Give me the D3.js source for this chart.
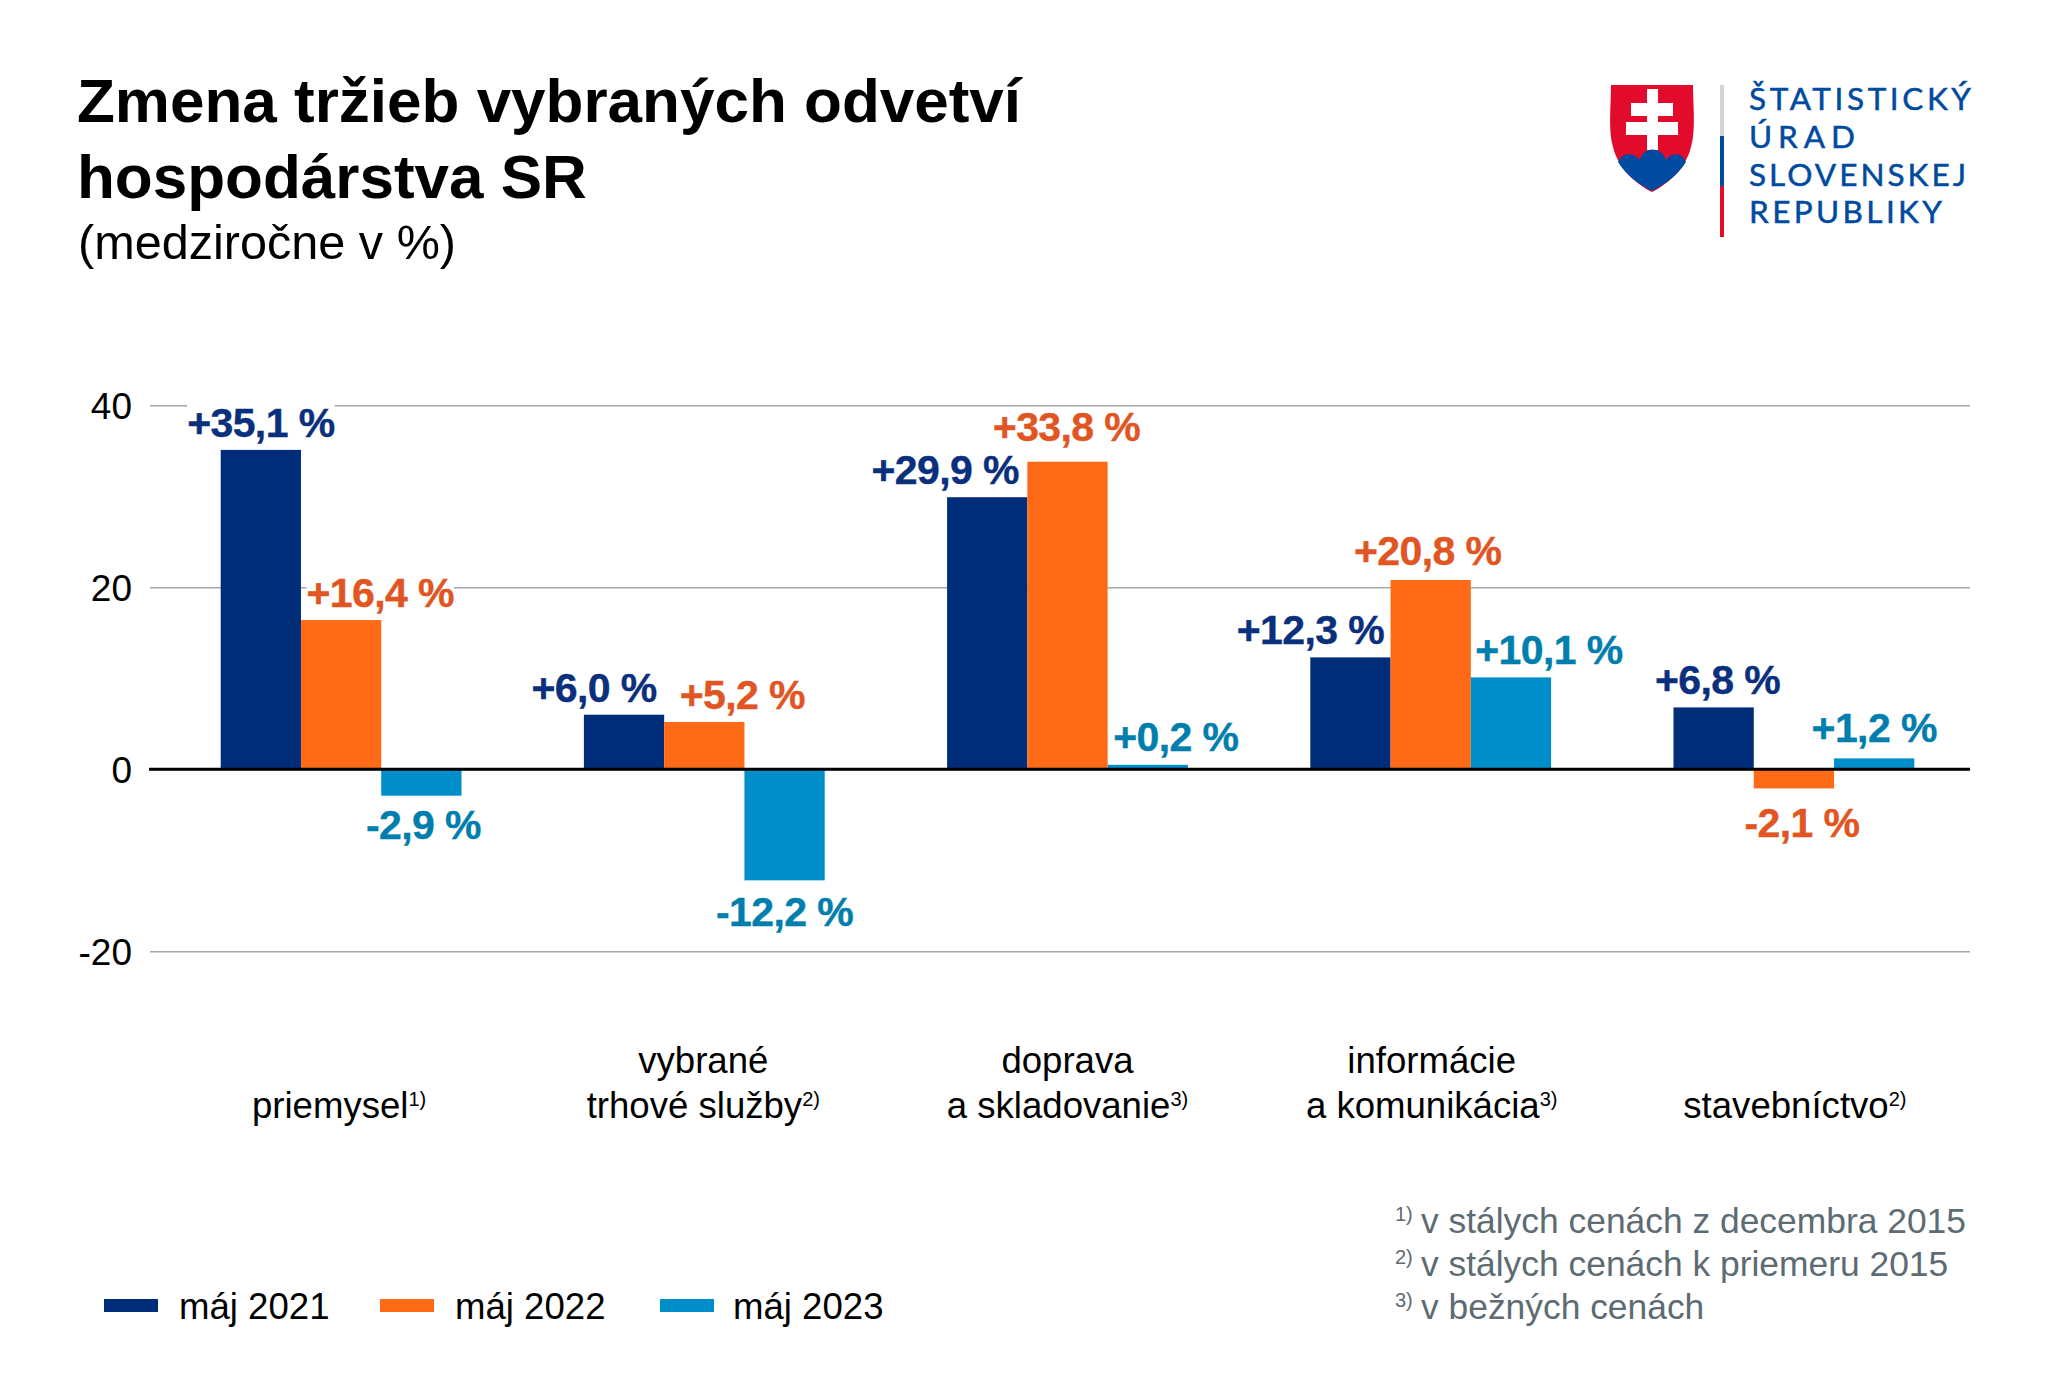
<!DOCTYPE html>
<html><head><meta charset="utf-8">
<script src="https://cdn.jsdelivr.net/npm/d3@7"></script>
<style>
html,body{margin:0;padding:0;background:#fff}
svg{display:block}
text{font-family:"Liberation Sans",Arial,sans-serif}
</style></head><body><svg id="c" width="2048" height="1396"></svg>
<script>
const categories=["priemysel","vybrané trhové služby","doprava a skladovanie","informácie a komunikácia","stavebníctvo"];
const categoryLines=[["priemysel"],["vybrané","trhové služby"],["doprava","a skladovanie"],["informácie","a komunikácia"],["stavebníctvo"]];
const categoryNotes=["1)","2)","3)","3)","2)"];
const seriesNames=["máj 2021","máj 2022","máj 2023"];
const may2021=[35.1,6.0,29.9,12.3,6.8];
const may2022=[16.4,5.2,33.8,20.8,-2.1];
const may2023=[-2.9,-12.2,0.2,10.1,1.2];
const yTicks=[-20,0,20,40];
const footnoteMarks=["1)","2)","3)"];
const footnotes=["v stálych cenách z decembra 2015","v stálych cenách k priemeru 2015","v bežných cenách"];
const titleLines=["Zmena tržieb vybraných odvetví","hospodárstva SR"];
const subtitle="(medziročne v %)";
const logoLines=["ŠTATISTICKÝ","ÚRAD","SLOVENSKEJ","REPUBLIKY"];

const barColors=["#002d7a","#ff6a17","#008ecb"];
const labelColors=["#0a2f7c","#e05522","#007ead"];
// manual nudges of the value labels relative to their bar: [dx, dy] by series, category
const nudge=[
 [[0,0],[-30,0],[-42,0],[-40,0],[4,0]],
 [[39,0],[38,0],[-1,-8],[-3,-2],[8,3]],
 [[2,-3],[0,0],[28,-3],[38,0],[0,-3]]
];
const minBarHeight=4.5; // very small bars stay visible above the zero line
const svg=d3.select("#c");
const y=d3.scaleLinear().domain([-20,40]).range([951.3,405.3]);
const x0=d3.scaleBand().domain(categories).range([159.5,1975.5]).paddingInner(0.337).paddingOuter(0.1685);
const x1=d3.scaleBand().domain(seriesNames).range([0,x0.bandwidth()]);
const values=[may2021,may2022,may2023];

// Title
const t=svg.append("g");
titleLines.forEach((s,i)=>t.append("text").attr("x",77).attr("y",[122,198][i]).attr("font-size",62).attr("font-weight",700).attr("fill","#000").text(s));
t.append("text").attr("x",78).attr("y",259).attr("font-size",48.6).attr("fill","#000").text(subtitle);

// Axis + gridlines
const axis=d3.axisLeft(y).tickValues(yTicks).tickSize(-1820).tickPadding(18).tickFormat(d=>String(d));
const ax=svg.append("g").attr("transform","translate(150,0)").call(axis);
ax.select(".domain").remove();
ax.selectAll(".tick line").attr("stroke","#a8a8a8").attr("stroke-width",1.5);
ax.selectAll(".tick text").attr("font-size",37).attr("dy","0.36em").attr("fill","#000").attr("font-family","Liberation Sans");

// Bars and labels
const fmt=v=>(v>=0?"+":"-")+Math.abs(v).toFixed(1).replace(".",",")+" %";
const halo=svg.append("g"), bars=svg.append("g"), labels=svg.append("g");
seriesNames.forEach((sn,s)=>{
  values[s].forEach((v,c)=>{
    const bx=x0(categories[c])+x1(sn), bw=x1.bandwidth();
    const h=Math.max(Math.abs(y(v)-y(0)),minBarHeight);
    bars.append("rect").attr("x",bx).attr("width",bw)
      .attr("y",v>=0?y(0)-h:y(0)).attr("height",h).attr("fill",barColors[s]);
    const ly=v>=0? y(v)-13 : y(v)+46;
    const tx=labels.append("text").attr("x",bx+bw/2+nudge[s][c][0]).attr("y",ly+nudge[s][c][1])
      .attr("text-anchor","middle").attr("font-size",41).attr("font-weight",700)
      .attr("letter-spacing",-0.6).attr("stroke",labelColors[s]).attr("stroke-width",0.4).attr("fill",labelColors[s]).text(fmt(v));
    const b=tx.node().getBBox();
    halo.append("rect").attr("x",b.x).attr("y",b.y+4).attr("width",b.width).attr("height",b.height-8).attr("fill","#fff");
  });
});
svg.append("line").attr("x1",149).attr("x2",1970).attr("y1",y(0)).attr("y2",y(0)).attr("stroke","#000").attr("stroke-width",3);

// Category labels
const cat=svg.append("g");
const catShift=[-2,-1,0,1,1];
categoryLines.forEach((ls,c)=>{
  const cx=x0(categories[c])+x0.bandwidth()/2+catShift[c];
  const base=1118;
  ls.forEach((l,i)=>{
    const yy=base-(ls.length-1-i)*45;
    const tx=cat.append("text").attr("x",cx).attr("y",yy).attr("text-anchor","middle").attr("font-size",36.6).attr("fill","#000");
    tx.append("tspan").text(l);
    if(i===ls.length-1) tx.append("tspan").attr("dy",-12).attr("font-size",20).text(categoryNotes[c]);
  });
});

// Legend
const lg=svg.append("g");
seriesNames.forEach((n,i)=>{
  const lx=[104,380,660][i];
  lg.append("rect").attr("x",lx).attr("y",1299).attr("width",54).attr("height",13).attr("fill",barColors[i]);
  lg.append("text").attr("x",[179,455,733][i]).attr("y",1319).attr("font-size",36.6).attr("fill","#000").text(n);
});

// Footnotes
const fn=svg.append("g");
footnotes.forEach((s,i)=>{
  const yy=[1233,1276,1319][i];
  fn.append("text").attr("x",1395).attr("y",yy-12).attr("font-size",20).attr("fill","#5d6b73").text(footnoteMarks[i]);
  fn.append("text").attr("x",1421).attr("y",yy).attr("font-size",35.4).attr("fill","#5d6b73").text(s);
});

// Logo
const logo=svg.append("g");
logo.append("path").attr("fill","#e30b2c").attr("d","M1611,85H1693C1693,105 1696,130 1691,147C1686,168 1668,184 1652,192C1636,184 1618,168 1613,147C1608,130 1611,105 1611,85Z");
logo.append("path").attr("fill","#fff").attr("d","M1647,89H1658V103H1673V116H1658V122H1678V135H1658V150H1647V135H1626V122H1647V116H1631V103H1647Z");
logo.append("path").attr("fill","#004a9f").attr("d","M1618,162C1622,152 1634,152 1640,160C1643,146 1662,146 1666,160C1671,152 1682,152 1686,162C1678,175 1666,184 1652,191C1638,184 1626,175 1618,162Z");
[["#d2d4d6",85,136],["#004a9f",136,186],["#e30b2c",186,237]].forEach(d=>{
  logo.append("rect").attr("x",1720).attr("width",4).attr("y",d[1]).attr("height",d[2]-d[1]).attr("fill",d[0]);
});
const logoWidths=[222,106,217,193];
logoLines.forEach((s,i)=>logo.append("text").attr("x",1749).attr("y",[110,148,186,223][i])
  .attr("font-size",31.5).attr("textLength",logoWidths[i]).attr("lengthAdjust","spacing")
  .attr("fill","#004a9f").attr("stroke","#004a9f").attr("stroke-width",0.5).style("font-family","Lato").text(s));
</script></body></html>
